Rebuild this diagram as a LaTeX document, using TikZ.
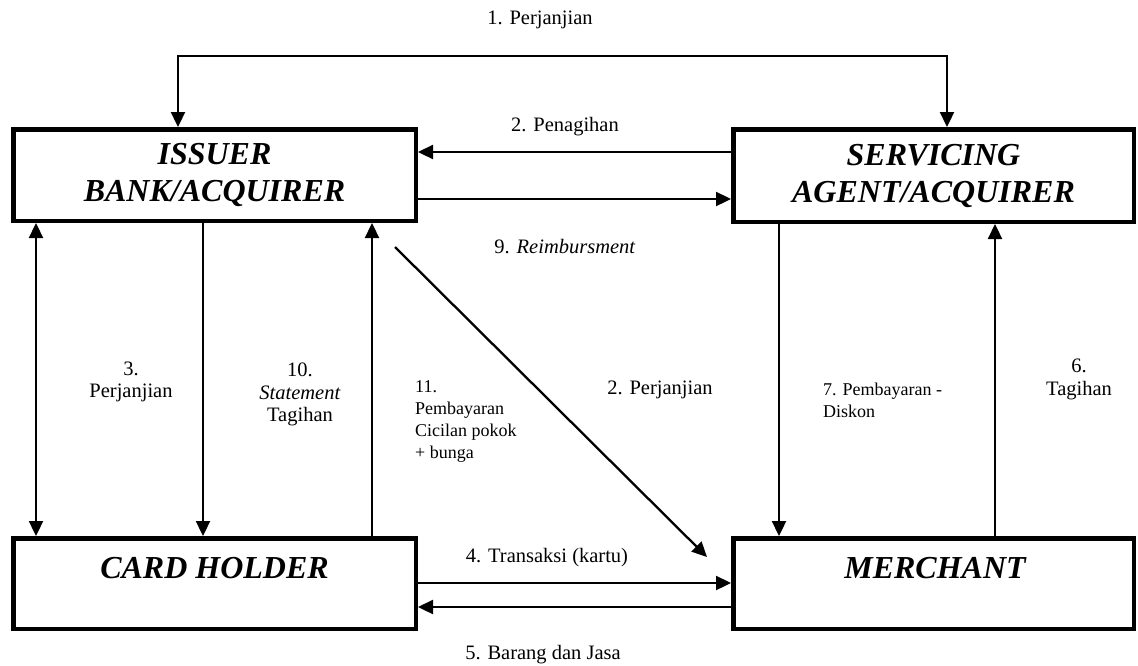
\documentclass[tikz,border=0pt]{standalone}
\usepackage{fontspec}
\setmainfont{Liberation Serif}
\usetikzlibrary{arrows.meta}
\begin{document}
\begin{tikzpicture}[x=1pt,y=-1pt,
  boxstyle/.style={draw, line width=4.5pt, inner sep=0pt},
  conn/.style={line width=2.3pt, -{Triangle[length=15pt,width=14pt]}},
  dconn/.style={line width=2.3pt, {Triangle[length=15pt,width=14pt]}-{Triangle[length=15pt,width=14pt]}},
  boxtext/.style={font=\fontsize{32}{37}\selectfont\bfseries\itshape, align=center},
  lbl/.style={font=\fontsize{20.5}{22.5}\selectfont, align=center, inner sep=0pt},
  slbl/.style={font=\fontsize{18}{22}\selectfont, align=left, inner sep=0pt, anchor=west}
]
\useasboundingbox (0,0) rectangle (1138,665);

% boxes
\node[boxstyle, minimum width=402.5pt, minimum height=91.5pt, boxtext] (issuer) at (214.5,175) {ISSUER\\BANK/ACQUIRER};
\node[boxstyle, minimum width=400.5pt, minimum height=92.5pt, boxtext] (servicing) at (933.5,175.5) {SERVICING\\AGENT/ACQUIRER};
\node[boxstyle, minimum width=402.5pt, minimum height=90.5pt] (card) at (214.5,583.5) {};
\node[boxtext, anchor=base] (cardtext) at (214.5,578) {CARD HOLDER};
\node[boxstyle, minimum width=400.5pt, minimum height=90.5pt] (merchant) at (933.5,583.5) {};
\node[boxtext, anchor=base] (merchtext) at (935,578) {MERCHANT};

% helper coordinates
\coordinate (tl) at (178,56);
\coordinate (tr) at (947,56);
\coordinate (ypen) at (0,152);
\coordinate (yreim) at (0,199);
\coordinate (x1) at (36,0);
\coordinate (x2) at (203,0);
\coordinate (x3) at (372,0);
\coordinate (dstart) at (395,247);
\coordinate (dend) at (707,557);
\coordinate (ytr) at (0,583);
\coordinate (ybar) at (0,607);
\coordinate (x4) at (779,0);
\coordinate (x5) at (995,0);

% connectors
\draw[dconn] (issuer.north -| tl) -- (tl) -- (tr) -- (servicing.north -| tr);
\draw[conn] (servicing.west |- ypen) -- (issuer.east |- ypen);
\draw[conn] (issuer.east |- yreim) -- (servicing.west |- yreim);
\draw[dconn] (issuer.south -| x1) -- (card.north -| x1);
\draw[conn] (issuer.south -| x2) -- (card.north -| x2);
\draw[conn] (card.north -| x3) -- (issuer.south -| x3);
\draw[conn] (dstart) -- (dend);
\draw[conn] (card.east |- ytr) -- (merchant.west |- ytr);
\draw[conn] (merchant.west |- ybar) -- (card.east |- ybar);
\draw[conn] (servicing.south -| x4) -- (merchant.north -| x4);
\draw[conn] (merchant.north -| x5) -- (servicing.south -| x5);

% labels
\node[lbl] (l1) at (540,20) {1. Perjanjian};
\node[lbl] (l2) at (565,127) {2. Penagihan};
\node[lbl] (l9) at (565,247) {9. \textit{Reimbursment}};
\node[lbl] (l3) at (131,382) {3.\\Perjanjian};
\node[lbl] (l10) at (300,394.5) {10.\\\textit{Statement}\\Tagihan};
\node[slbl] (l11) at (415,421) {11.\\Pembayaran\\Cicilan pokok\\+ bunga};
\node[lbl] (l2b) at (660,390) {2. Perjanjian};
\node[lbl] (l4) at (547,558) {4. Transaksi (kartu)};
\node[lbl] (l5) at (543,655) {5. Barang dan Jasa};
\node[slbl] (l7) at (823,400) {7. Pembayaran -\\Diskon};
\node[lbl] (l6) at (1079,379.5) {6.\\Tagihan};
\end{tikzpicture}
\end{document}
